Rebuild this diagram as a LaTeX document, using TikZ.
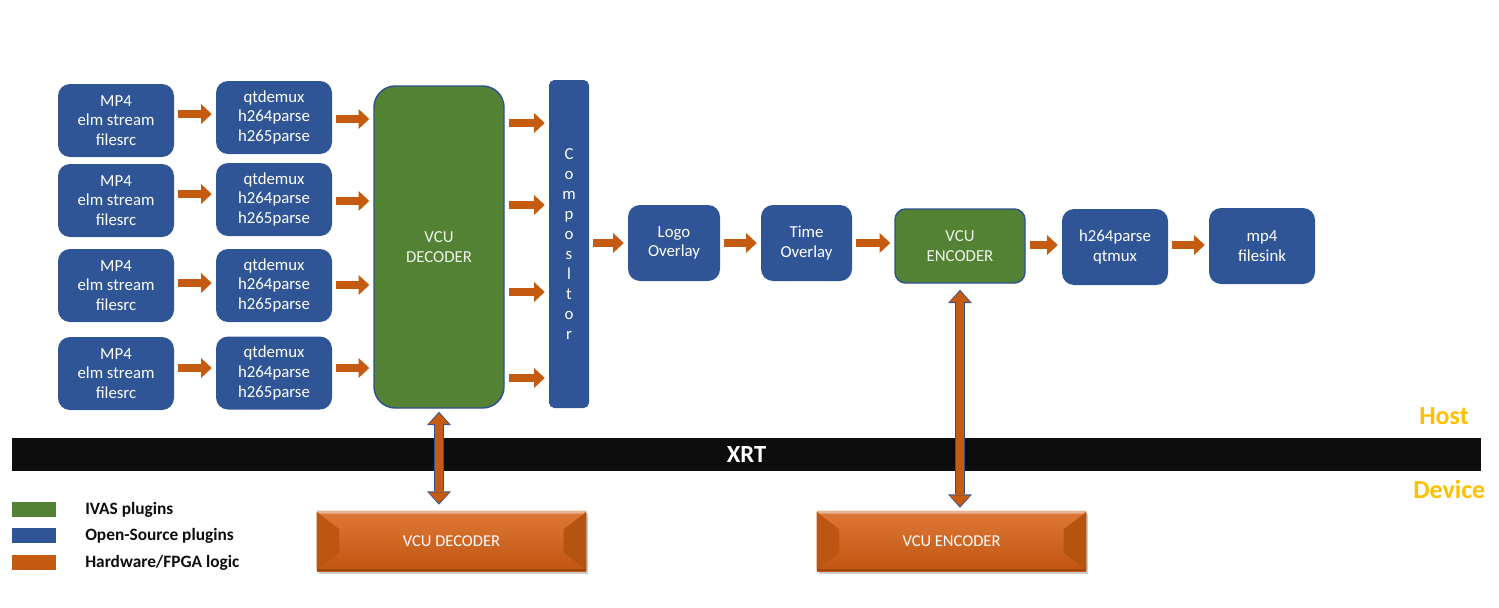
\documentclass[tikz,border=0pt]{standalone}
\usepackage{fontspec}
\setmainfont{Carlito}
\usetikzlibrary{positioning,calc,arrows.meta,shadows}

\definecolor{plugblue}{HTML}{2F5597}
\definecolor{ivasgreen}{HTML}{548235}
\definecolor{hwor}{HTML}{C55A11}
\definecolor{hwtop}{HTML}{DE7838}
\definecolor{hwbot}{HTML}{C05510}
\definecolor{edgeblue}{HTML}{2F528F}
\definecolor{paleg}{HTML}{EEF5EA}
\definecolor{hostgold}{HTML}{FFC000}
\definecolor{barblack}{HTML}{0D0D0D}

\tikzset{
  boxfont/.style={font=\fontsize{12.6}{14.8}\selectfont},
  plug/.style={boxfont, fill=plugblue, text=white, rounded corners=9pt,
    align=center, inner sep=0pt, minimum width=87pt, minimum height=54.75pt},
  ivas/.style={boxfont, fill=ivasgreen, draw=edgeblue, line width=1.1pt,
    text=paleg, align=center, inner sep=0pt},
  flow/.style={draw=hwor, line width=6pt,
    -{Triangle[length=8pt,width=15pt,line width=0pt]},
    shorten <=3pt, shorten >=3pt},
  dbl/.style={draw=hwor, line width=6pt,
    {Triangle[length=8.2pt,width=15.6pt,line width=0pt]}-{Triangle[length=8.2pt,width=15.6pt,line width=0pt]},
    shorten <=1.1pt, shorten >=1.1pt,
    preaction={draw=edgeblue, line width=7.6pt,
      {Triangle[length=10pt,width=18pt,line width=0pt]}-{Triangle[length=10pt,width=18pt,line width=0pt]},
      shorten <=0pt, shorten >=0pt}},
  hwbox/.style={top color=hwtop, bottom color=hwbot, text=white, inner sep=0pt,
    font=\fontsize{12.4}{14.6}\selectfont,
    minimum width=201.75pt, minimum height=45pt,
    drop shadow={shadow xshift=1.5pt, shadow yshift=-2pt, fill=black, opacity=0.2}},
  legbox/.style={minimum width=33pt, minimum height=11.25pt, inner sep=0pt},
  legtext/.style={font=\fontsize{13}{15}\selectfont\bfseries, text=barblack,
    anchor=base west, inner sep=0pt},
  side/.style={font=\fontsize{19.5}{22}\selectfont\bfseries, text=hostgold,
    anchor=base west, inner sep=0pt}
}

\begin{document}
\begin{tikzpicture}[x=0.75pt,y=-0.75pt]
  \useasboundingbox (0,0) rectangle (1499,607);

  % four input branches
  \foreach \i/\ys/\yd in {1/120.5/117.5, 2/200.5/199.5, 3/285.5/285.5, 4/373.5/373}{
    \node[plug] (src\i) at (116,\ys) {MP4\\elm stream\\filesrc};
    \node[plug] (dmx\i) at (274,\yd) {qtdemux\\h264parse\\h265parse};
  }

  \node[ivas, rounded corners=16pt, minimum width=97.5pt, minimum height=241.5pt]
    (dec) at (439,247) {VCU\\DECODER};
  \node[plug, font=\fontsize{12.6}{15}\selectfont, rounded corners=4pt,
    minimum width=30pt, minimum height=246pt]
    (comp) at (569,244) {C\\o\\m\\p\\o\\s\\l\\t\\o\\r};

  % output chain
  \node[plug, minimum width=69pt, minimum height=57pt] (logo) at (674,243) {Logo\\Overlay};
  \node[plug, minimum width=68.25pt, minimum height=57pt] (time) at (806.5,243) {Time\\Overlay};
  \node[ivas, rounded corners=8pt, minimum width=97.5pt, minimum height=55.5pt]
    (enc) at (960,246) {VCU\\ENCODER};
  \node[plug, minimum width=79.5pt, minimum height=57pt] (mux) at (1115,247) {h264parse\\qtmux};
  \node[plug, minimum width=79.5pt, minimum height=57pt] (sink) at (1262,246) {mp4\\filesink};

  % arrows
  \foreach \i/\ya/\yb in {1/114/119, 2/194/201, 3/283/285, 4/368/368}{
    \draw[flow] (src\i.east |- 0,\ya) -- (dmx\i.west |- 0,\ya);
    \draw[flow] (dmx\i.east |- 0,\yb) -- (dec.west |- 0,\yb);
  }
  \foreach \y in {123,205,292,378}
    \draw[flow] (dec.east |- 0,\y) -- (comp.west |- 0,\y);
  \draw[flow] (comp.east |- logo) -- (logo.west);
  \draw[flow] (logo) -- (time);
  \draw[flow] (time.east) -- (time.east -| enc.west);
  \draw[flow] (enc.east |- 0,245) -- (mux.west |- 0,245);
  \draw[flow] (mux.east |- 0,245) -- (sink.west |- 0,245);

  % XRT bar
  \node[fill=barblack, text=white, inner sep=0pt, minimum width=1101.75pt,
    minimum height=24.75pt, font=\fontsize{18.5}{20}\selectfont\bfseries]
    (xrt) at (746.5,454.5) {XRT};
  \node[side] (host) at (1419,424) {Host};
  \node[side] (device) at (1413,498) {Device};

  % hardware blocks
  \node[hwbox] (hwdec) at (451.5,541) {VCU DECODER};
  \node[hwbox] (hwenc) at (951.5,541) {VCU ENCODER};
  \foreach \n in {hwdec,hwenc}{
    \fill[hwor!45!white] (\n.north west) -- (\n.north east)
      -- ([shift={(-2pt,-2.2pt)}]\n.north east) -- ([shift={(2pt,-2.2pt)}]\n.north west) -- cycle;
    \fill[hwor!96!black] ([yshift=-1pt]\n.north west) -- ([shift={(17pt,-14pt)}]\n.north west)
      -- ([shift={(17pt,14pt)}]\n.south west) -- ([yshift=1pt]\n.south west) -- cycle;
    \fill[hwor!92!black] ([yshift=-1pt]\n.north east) -- ([shift={(-17pt,-14pt)}]\n.north east)
      -- ([shift={(-17pt,14pt)}]\n.south east) -- ([yshift=1pt]\n.south east) -- cycle;
    \fill[hwor!80!black] (\n.south west) -- (\n.south east)
      -- ([yshift=1.5pt]\n.south east) -- ([yshift=1.5pt]\n.south west) -- cycle;
  }

  \draw[dbl] ($(dec.south)+(0,3)$) -- ($(dec.south |- hwdec.north)+(0,-6)$);
  \draw[dbl] ($(enc.south)+(0,6)$) -- ($(enc.south |- hwenc.north)+(0,-3)$);

  % legend
  \node[legbox, fill=ivasgreen] (lgreen) at (34,509.5) {};
  \node[legbox, fill=plugblue] (lblue) at (34,535) {};
  \node[legbox, fill=hwor] (lorange) at (34,562.5) {};
  \node[legtext] (tgreen) at (85,514.5) {IVAS plugins};
  \node[legtext] (tblue) at (85,540) {Open-Source plugins};
  \node[legtext] (torange) at (85,567.5) {Hardware/FPGA logic};
\end{tikzpicture}
\end{document}
